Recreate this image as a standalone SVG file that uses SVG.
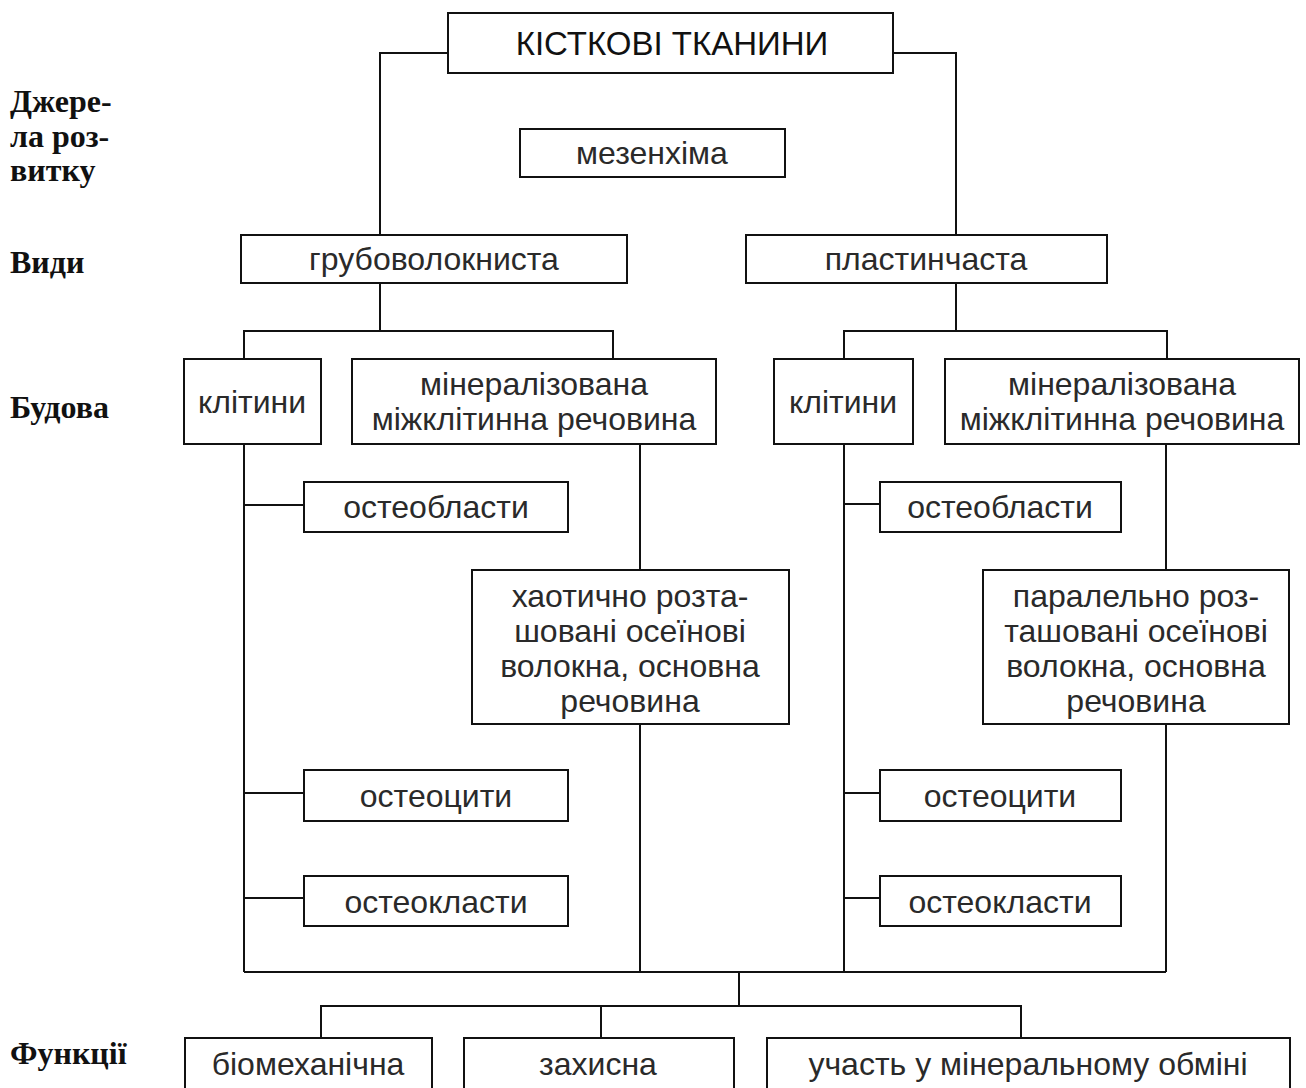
<svg xmlns="http://www.w3.org/2000/svg" width="1306" height="1088" viewBox="0 0 1306 1088">
  <style>
    .box { fill: #ffffff; stroke: #111111; stroke-width: 2; }
    .wire { fill: none; stroke: #111111; stroke-width: 2; }
    .t { font-family: "Liberation Sans", Arial, sans-serif; font-size: 32px; fill: #2a2a2a; text-anchor: middle; }
    .title { font-family: "Liberation Sans", Arial, sans-serif; font-size: 33px; fill: #111111; text-anchor: middle; }
    .lab { font-family: "Liberation Serif", "Times New Roman", serif; font-size: 32px; font-weight: bold; fill: #111111; }
  </style>
  <rect width="1306" height="1088" fill="#ffffff"/>

  <!-- row labels -->
  <g id="labels">
    <text class="lab" x="10" y="112">Джере-</text>
    <text class="lab" x="10" y="147">ла роз-</text>
    <text class="lab" x="10" y="181">витку</text>
    <text class="lab" x="10" y="273">Види</text>
    <text class="lab" x="10" y="418">Будова</text>
    <text class="lab" x="10" y="1064">Функції</text>
  </g>

  <!-- connectors -->
  <g id="connectors">
    <polyline class="wire" points="448,53 380,53 380,235"/>
    <polyline class="wire" points="893,53 956,53 956,235"/>
    <line class="wire" x1="380" y1="283" x2="380" y2="331"/>
    <polyline class="wire" points="244,359 244,331 613,331 613,359"/>
    <line class="wire" x1="956" y1="283" x2="956" y2="331"/>
    <polyline class="wire" points="844,359 844,331 1167,331 1167,359"/>
    <!-- left column -->
    <line class="wire" x1="244" y1="444" x2="244" y2="972"/>
    <line class="wire" x1="244" y1="505" x2="304" y2="505"/>
    <line class="wire" x1="244" y1="793" x2="304" y2="793"/>
    <line class="wire" x1="244" y1="898" x2="304" y2="898"/>
    <line class="wire" x1="640" y1="444" x2="640" y2="570"/>
    <line class="wire" x1="640" y1="724" x2="640" y2="972"/>
    <!-- right column -->
    <line class="wire" x1="844" y1="444" x2="844" y2="972"/>
    <line class="wire" x1="844" y1="504" x2="880" y2="504"/>
    <line class="wire" x1="844" y1="793" x2="880" y2="793"/>
    <line class="wire" x1="844" y1="898" x2="880" y2="898"/>
    <line class="wire" x1="1166" y1="444" x2="1166" y2="570"/>
    <line class="wire" x1="1166" y1="724" x2="1166" y2="972"/>
    <!-- gather and fan out to functions -->
    <line class="wire" x1="244" y1="972" x2="1166" y2="972"/>
    <line class="wire" x1="739" y1="972" x2="739" y2="1006"/>
    <polyline class="wire" points="321,1038 321,1006 1021,1006 1021,1038"/>
    <line class="wire" x1="601" y1="1006" x2="601" y2="1038"/>
  </g>

  <g id="root">
    <rect class="box" x="448" y="13" width="445" height="60"/>
    <text class="title" x="672" y="55">КІСТКОВІ ТКАНИНИ</text>
  </g>
  <g id="mesenchyme">
    <rect class="box" x="520" y="129" width="265" height="48"/>
    <text class="t" x="652" y="164">мезенхіма</text>
  </g>
  <g id="coarse">
    <rect class="box" x="241" y="235" width="386" height="48"/>
    <text class="t" x="434" y="270">грубоволокниста</text>
  </g>
  <g id="lamellar">
    <rect class="box" x="746" y="235" width="361" height="48"/>
    <text class="t" x="926" y="270">пластинчаста</text>
  </g>

  <g id="cells-l">
    <rect class="box" x="184" y="359" width="137" height="85"/>
    <text class="t" x="252" y="413">клітини</text>
  </g>
  <g id="matrix-l">
    <rect class="box" x="352" y="359" width="364" height="85"/>
    <text class="t" x="534" y="395">мінералізована</text>
    <text class="t" x="534" y="430">міжклітинна речовина</text>
  </g>
  <g id="cells-r">
    <rect class="box" x="774" y="359" width="139" height="85"/>
    <text class="t" x="843" y="413">клітини</text>
  </g>
  <g id="matrix-r">
    <rect class="box" x="945" y="359" width="354" height="85"/>
    <text class="t" x="1122" y="395">мінералізована</text>
    <text class="t" x="1122" y="430">міжклітинна речовина</text>
  </g>

  <g id="osteoblasts-l">
    <rect class="box" x="304" y="482" width="264" height="50"/>
    <text class="t" x="436" y="518">остеобласти</text>
  </g>
  <g id="fibres-l">
    <rect class="box" x="472" y="570" width="317" height="154"/>
    <text class="t" x="630" y="607">хаотично розта-</text>
    <text class="t" x="630" y="642">шовані осеїнові</text>
    <text class="t" x="630" y="677">волокна, основна</text>
    <text class="t" x="630" y="712">речовина</text>
  </g>
  <g id="osteocytes-l">
    <rect class="box" x="304" y="770" width="264" height="51"/>
    <text class="t" x="436" y="807">остеоцити</text>
  </g>
  <g id="osteoclasts-l">
    <rect class="box" x="304" y="876" width="264" height="50"/>
    <text class="t" x="436" y="913">остеокласти</text>
  </g>

  <g id="osteoblasts-r">
    <rect class="box" x="880" y="482" width="241" height="50"/>
    <text class="t" x="1000" y="518">остеобласти</text>
  </g>
  <g id="fibres-r">
    <rect class="box" x="983" y="570" width="306" height="154"/>
    <text class="t" x="1136" y="607">паралельно роз-</text>
    <text class="t" x="1136" y="642">ташовані осеїнові</text>
    <text class="t" x="1136" y="677">волокна, основна</text>
    <text class="t" x="1136" y="712">речовина</text>
  </g>
  <g id="osteocytes-r">
    <rect class="box" x="880" y="770" width="241" height="51"/>
    <text class="t" x="1000" y="807">остеоцити</text>
  </g>
  <g id="osteoclasts-r">
    <rect class="box" x="880" y="876" width="241" height="50"/>
    <text class="t" x="1000" y="913">остеокласти</text>
  </g>

  <g id="fn-biomech">
    <rect class="box" x="185" y="1038" width="247" height="60"/>
    <text class="t" x="308" y="1075">біомеханічна</text>
  </g>
  <g id="fn-protect">
    <rect class="box" x="464" y="1038" width="270" height="60"/>
    <text class="t" x="598" y="1075">захисна</text>
  </g>
  <g id="fn-mineral">
    <rect class="box" x="767" y="1038" width="523" height="60"/>
    <text class="t" x="1028" y="1075">участь у мінеральному обміні</text>
  </g>
</svg>
